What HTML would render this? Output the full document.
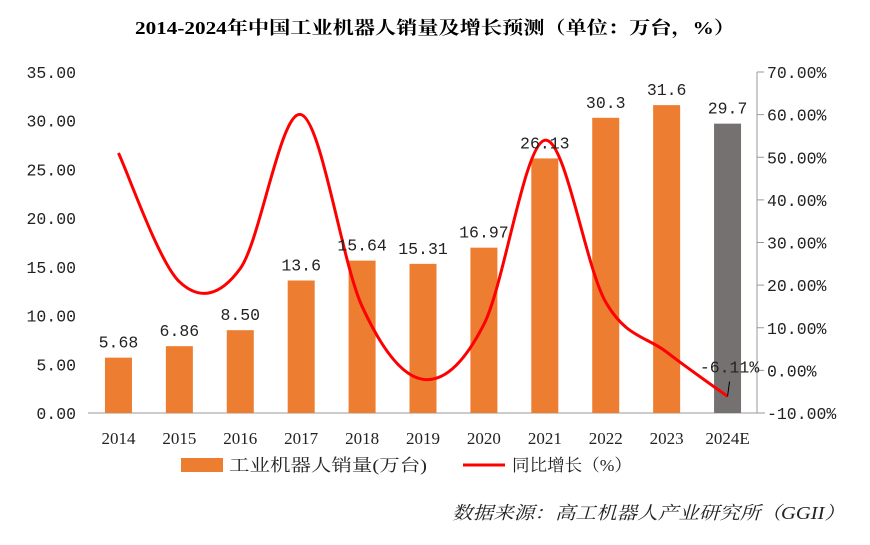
<!DOCTYPE html>
<html><head><meta charset="utf-8"><style>
body{margin:0;background:#fff;}
svg text{font-family:"Liberation Serif","Noto Serif CJK SC",serif;}
svg text.num{font-family:"Liberation Mono","Noto Serif CJK SC",monospace;}
</style></head><body>
<svg id="chart" width="870" height="540" xmlns="http://www.w3.org/2000/svg">
<text x="135" y="34" textLength="600" lengthAdjust="spacingAndGlyphs" font-size="18" font-weight="bold" fill="#000">2014-2024年中国工业机器人销量及增长预测（单位：万台，%）</text>
<g id="axes"></g><g id="bars"></g><g id="line"></g><g id="labels"></g>
<g>
<rect x="181" y="458" width="42" height="14" fill="#ED7D31"/>
<text x="229" y="471" textLength="198" lengthAdjust="spacingAndGlyphs" font-size="17" fill="#222">工业机器人销量(万台)</text>
<line x1="463" y1="465" x2="505" y2="465" stroke="#FF0000" stroke-width="3"/>
<text x="512" y="471" textLength="120" lengthAdjust="spacingAndGlyphs" font-size="17" fill="#222">同比增长（%）</text>
</g>
<text x="452" y="519" textLength="393" lengthAdjust="spacingAndGlyphs" font-size="18" font-style="italic" fill="#222">数据来源：高工机器人产业研究所（GGII）</text>
</svg>
<script>
const categories=["2014","2015","2016","2017","2018","2019","2020","2021","2022","2023","2024E"];
const sales=[5.68,6.86,8.50,13.6,15.64,15.31,16.97,26.13,30.3,31.6,29.7];
const salesLabels=["5.68","6.86","8.50","13.6","15.64","15.31","16.97","26.13","30.3","31.6","29.7"];
const growth=[51,20.8,23.9,60,15,-2.1,10.8,54,16,4.3,-6.11];
const leftTicks=[0,5,10,15,20,25,30,35];
const rightTicks=[-10,0,10,20,30,40,50,60,70];
const NS="http://www.w3.org/2000/svg";
const x0=88,x1=758,yB=413,yT=72;
const xC=i=>x0+(x1-x0)/categories.length*(i+0.5);
const yL=v=>yB-(v/35)*(yB-yT);
const yR=v=>yB-((v+10)/80)*(yB-yT);
function mk(tag,attrs,parent,txt){const e=document.createElementNS(NS,tag);for(const k in attrs)e.setAttribute(k,attrs[k]);if(txt!==undefined)e.textContent=txt;parent.appendChild(e);return e;}
const axes=document.getElementById('axes');
let e=mk('line',{x1:x0,y1:yB,x2:765,y2:yB,stroke:'#999','stroke-width':1},axes);


e=mk('line',{x1:757,y1:yT,x2:757,y2:yB,stroke:'#999','stroke-width':1},axes);


leftTicks.forEach(v=>{const t=mk('text',{class:'num',x:76,y:yL(v)+6,'text-anchor':'end','font-size':16.5,fill:'#222'},axes,v.toFixed(2));

});
rightTicks.forEach(v=>{const l=mk('line',{x1:757,y1:yR(v),x2:764,y2:yR(v),stroke:'#999'},axes);


const t=mk('text',{class:'num',x:767,y:yR(v)+6,'font-size':16.5,fill:'#222'},axes,v.toFixed(2)+'%');

});
categories.forEach((c,i)=>{const t=mk('text',{x:xC(i),y:444,'text-anchor':'middle','font-size':17,fill:'#222'},axes,c);

});
const bars=document.getElementById('bars'),labels=document.getElementById('labels');
sales.forEach((v,i)=>{const r=mk('rect',{x:xC(i)-13.5,y:yL(v),width:27,height:yB-yL(v),fill:i===sales.length-1?'#767171':'#ED7D31'},bars);


const t=mk('text',{class:'num',x:xC(i),y:yL(v)-10,'text-anchor':'middle','font-size':16.5,fill:'#222'},labels,salesLabels[i]);

});
const pts=growth.map((g,i)=>[xC(i),yR(g)]);
let d='M'+pts[0][0]+','+pts[0][1];
for(let i=0;i<pts.length-1;i++){const p0=pts[i-1]||pts[i],p1=pts[i],p2=pts[i+1],p3=pts[i+2]||p2;const k=1/6;
d+=' C'+(p1[0]+(p2[0]-p0[0])*k)+','+(p1[1]+(p2[1]-p0[1])*k)+' '+(p2[0]-(p3[0]-p1[0])*k)+','+(p2[1]-(p3[1]-p1[1])*k)+' '+p2[0]+','+p2[1];}
const path=mk('path',{d:d,fill:'none',stroke:'#FF0000','stroke-width':3},document.getElementById('line'));


const last=pts[pts.length-1];
const ld=mk('line',{x1:last[0],y1:last[1],x2:last[0]+2,y2:last[1]-15,stroke:'#000'},labels);


const gl=mk('text',{class:'num',x:last[0]+2,y:last[1]-24,'text-anchor':'middle','font-size':16.5,fill:'#222'},labels,growth[growth.length-1].toFixed(2).replace(/0$/,'')+'%');


</script>
</body></html>
